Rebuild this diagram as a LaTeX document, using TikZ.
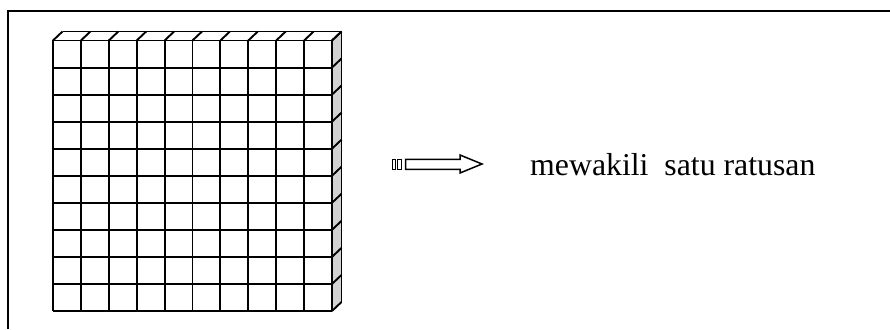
\documentclass[tikz,border=0pt]{standalone}
\usepackage{fontspec}
\setmainfont{Liberation Serif}
\begin{document}
\begin{tikzpicture}[x=1pt,y=-1pt,
  gridline/.style={line width=1.9pt,draw=black},
  frameline/.style={line width=2pt,draw=black},
  arrowline/.style={line width=1.5pt,draw=black,line join=miter},
  labeltext/.style={font=\fontsize{31.8}{36}\selectfont,inner sep=0pt,anchor=base west}]
\useasboundingbox (0,0) rectangle (890,329);
\fill[white] (0,0) rectangle (890,329);
% frame (only top and left visible)
\draw[frameline] (8,329) -- (8,11) -- (890,11);
% block of hundred
\def\xa{53}\def\xb{332}\def\ya{40.5}\def\yb{311}
\def\cw{27.9}\def\ch{27.05}\def\dx{9.5}\def\dy{9}
% side face
\fill[gray!35] (\xb,\ya) -- (\xb+\dx,\ya-\dy) -- (\xb+\dx,\yb-\dy) -- (\xb,\yb) -- cycle;
% top face
\fill[white] (\xa,\ya) -- (\xa+\dx,\ya-\dy) -- (\xb+\dx,\ya-\dy) -- (\xb,\ya) -- cycle;
\foreach \i in {0,...,10}{
  \draw[gridline] (\xa+\i*\cw,\ya) -- (\xa+\i*\cw+\dx,\ya-\dy);
  \draw[gridline] (\xb,\ya+\i*\ch) -- (\xb+\dx,\ya+\i*\ch-\dy);
  \draw[gridline] (\xa+\i*\cw,\ya) -- (\xa+\i*\cw,\yb);
  \draw[gridline] (\xa,\ya+\i*\ch) -- (\xb,\ya+\i*\ch);
}
\draw[gridline,line join=miter] (\xa+\dx,\ya-\dy) -- (\xb+\dx,\ya-\dy) -- (\xb+\dx,\yb-\dy);
% block arrow
\draw[arrowline] (392.3,159.3) rectangle (395.7,169.3);
\draw[arrowline] (397.7,159.3) rectangle (401.7,169.3);
\draw[arrowline] (405.7,159.3) -- (460,159.3) -- (460,155) -- (482,164)
  -- (460,173) -- (460,169.3) -- (405.7,169.3) -- cycle;
% label
\node[labeltext] (label) at (530,175) {mewakili\hspace{0.5em}satu ratusan};
\end{tikzpicture}
\end{document}
